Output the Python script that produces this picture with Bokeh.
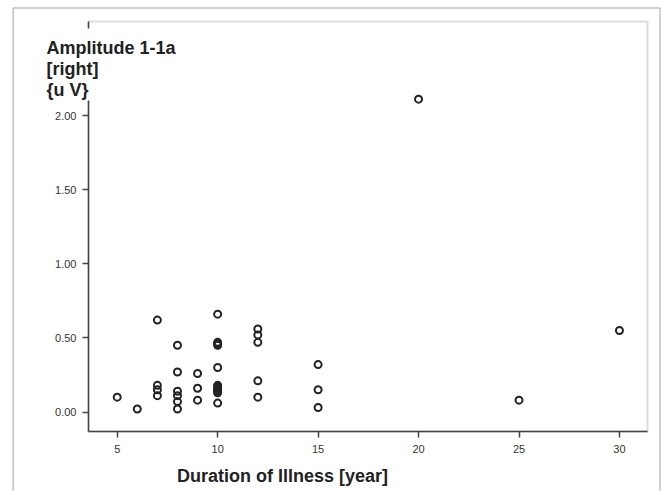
from bokeh.plotting import figure
from bokeh.models import Range1d, FixedTicker, Label, BoxAnnotation, ColumnDataSource
from bokeh.embed import file_html
from bokeh.resources import INLINE

# ---- data ----
duration = [5, 6,
            7, 7, 7, 7,
            8, 8, 8, 8, 8, 8,
            9, 9, 9,
            10, 10, 10, 10, 10, 10, 10, 10, 10, 10, 10, 10,
            12, 12, 12, 12, 12,
            15, 15, 15,
            20, 25, 30]
amplitude = [0.10, 0.02,
             0.62, 0.18, 0.15, 0.11,
             0.45, 0.27, 0.14, 0.11, 0.07, 0.02,
             0.26, 0.16, 0.08,
             0.66, 0.47, 0.46, 0.45, 0.30, 0.18, 0.17, 0.16, 0.15, 0.14, 0.13, 0.06,
             0.56, 0.52, 0.47, 0.21, 0.10,
             0.32, 0.15, 0.03,
             2.11, 0.08, 0.55]
x_ticks = [5, 10, 15, 20, 25, 30]
y_ticks = [0.0, 0.5, 1.0, 1.5, 2.0]
y_title_lines = ["Amplitude 1-1a", "[right]", "{u V}"]
x_title = "Duration of Illness [year]"

# ---- layout helpers: page pixel -> data units ----
W, H = 661, 491
FL, FR, FT, FB = 88, 647, 21, 431   # plot-box edges in page pixels

def dx(px):
    return 5 + (px - 116.7) / 20.09

def dy(py):
    return (411.5 - py) / 148.25

FONT = "Liberation Sans"

# the frame covers the whole canvas; the axes are fixed at the plot-box edges
p = figure(width=W, height=H, output_backend="svg", toolbar_location=None,
           x_range=Range1d(dx(0), dx(W)), y_range=Range1d(dy(H), dy(0)),
           min_border=0, background_fill_color="white", border_fill_color="white")

p.xgrid.visible = False
p.ygrid.visible = False
p.outline_line_color = None

xa, ya = p.xaxis[0], p.yaxis[0]
xa.fixed_location = dy(FB)
ya.fixed_location = dx(FL)
xa.bounds = (dx(FL), dx(FR))
ya.bounds = (dy(FB), dy(FT))

for ax in (xa, ya):
    ax.axis_line_color = "#444444"
    ax.axis_line_width = 1.5
    ax.major_tick_line_color = "#444444"
    ax.major_tick_line_width = 1.5
    ax.major_tick_out = 6
    ax.major_tick_in = 0
    ax.minor_tick_line_color = None
    ax.major_label_text_font = FONT
    ax.major_label_text_font_size = "11px"
    ax.major_label_text_color = "#333333"

xa.ticker = FixedTicker(ticks=x_ticks)
ya.ticker = FixedTicker(ticks=y_ticks)
xa.major_label_standoff = 7
ya.major_label_standoff = 6
ya.major_label_overrides = {t: f"{t:.2f}" for t in y_ticks}

# plot box (top and right edges visible; left/bottom lie under the axes)
p.add_layout(BoxAnnotation(left=dx(FL), right=dx(FR), top=dy(FT), bottom=dy(FB),
                           fill_alpha=0, line_color="#8a8a8a", line_width=2,
                           level="underlay"))

# outer border of the picture
p.add_layout(BoxAnnotation(left=dx(12.7), right=dx(659.5), top=dy(7.5), bottom=dy(530),
                           fill_alpha=0, line_color="#333333", line_width=1.5,
                           level="underlay"))

src = ColumnDataSource(dict(x=duration, y=amplitude))
p.scatter("x", "y", source=src, marker="circle", size=7, fill_color=None,
          line_color="#222222", line_width=2)

# white patch behind the y title, interrupting the axis line
p.add_layout(BoxAnnotation(left=dx(44), right=dx(178), top=dy(28), bottom=dy(100),
                           fill_color="white", fill_alpha=1, line_color=None,
                           level="annotation"))

# y title (horizontal, over the axis line)
for i, line in enumerate(y_title_lines):
    p.add_layout(Label(x=dx(46), y=dy(47 + 21 * i), text=line,
                       text_font=FONT, text_font_size="18px", text_font_style="bold",
                       text_color="#222222", text_baseline="alphabetic", text_align="left"))

# x title
p.add_layout(Label(x=dx(282), y=dy(475), text=x_title,
                   text_font=FONT, text_font_size="18px", text_font_style="bold",
                   text_color="#222222", text_baseline="alphabetic", text_align="center"))

open("out.html", "w").write(file_html(p, INLINE))
